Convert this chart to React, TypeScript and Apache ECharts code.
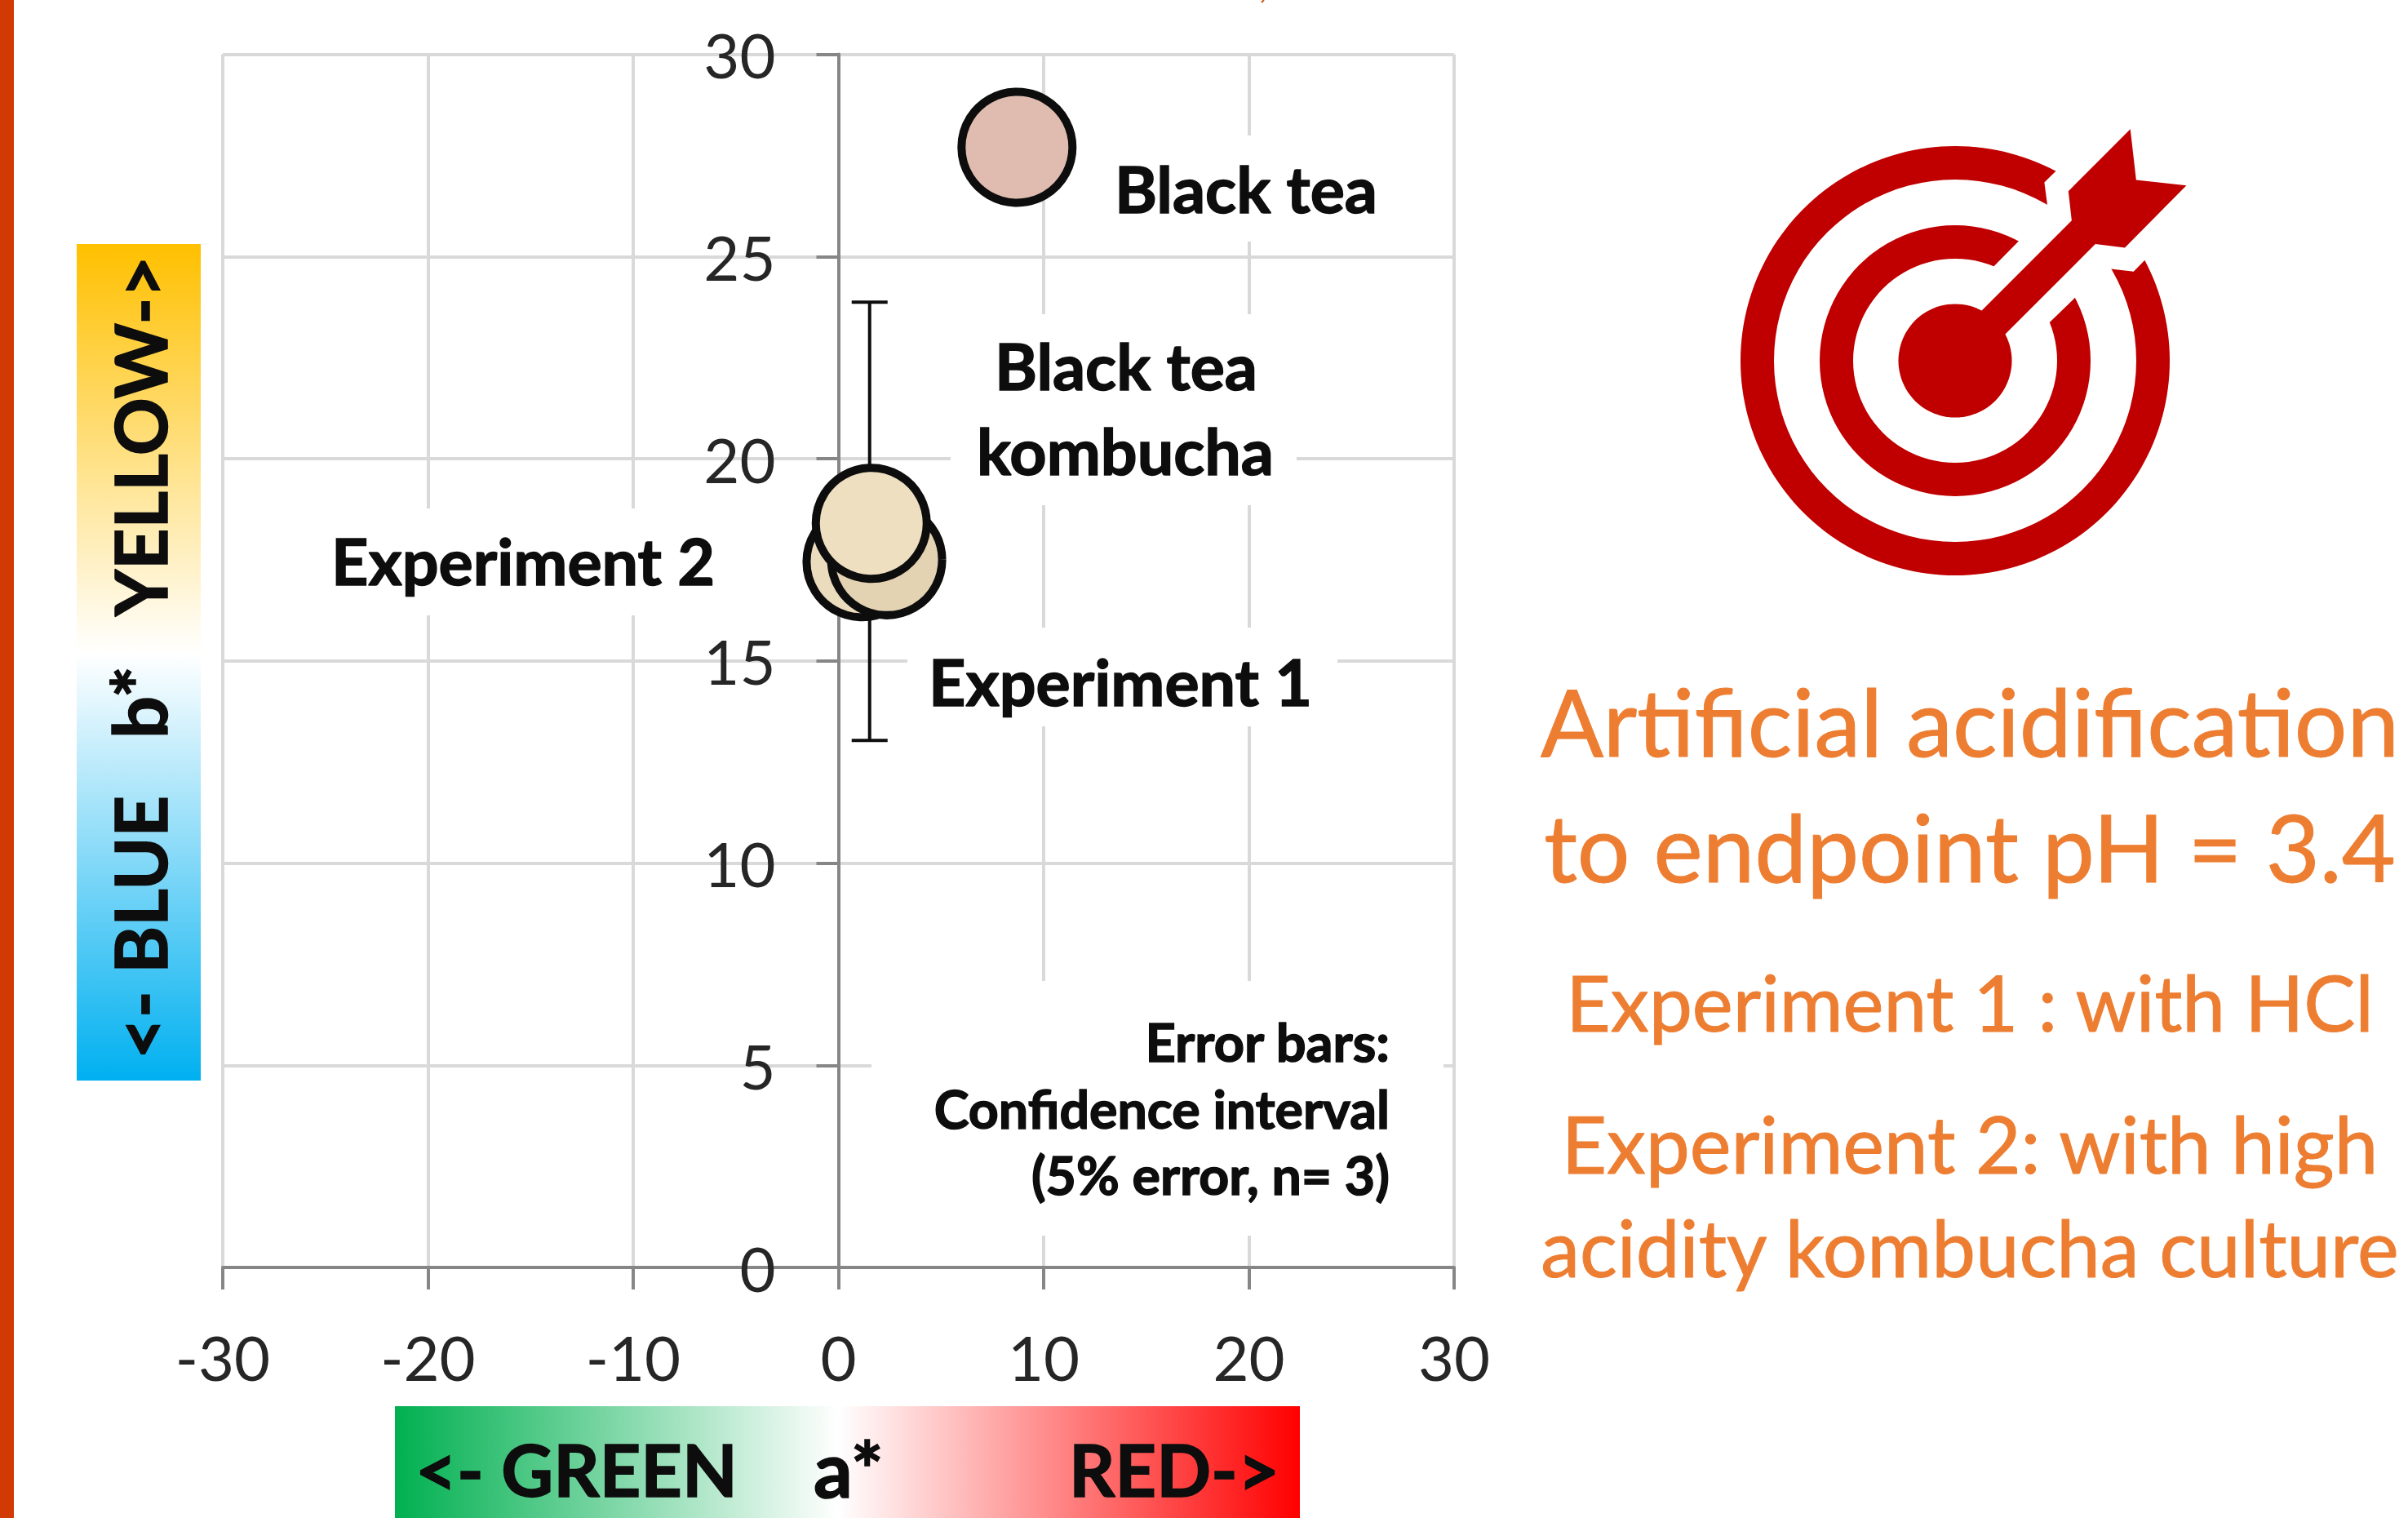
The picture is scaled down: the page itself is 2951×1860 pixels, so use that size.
import React, { useEffect, useRef } from "react";
import * as echarts from "echarts";

const xTicks = [-30, -20, -10, 0, 10, 20, 30];
const yTicks = [0, 5, 10, 15, 20, 25, 30];
const blackTea = [[8.7, 27.7]];
const experiment1Left = [[1.15, 17.45]];
const experiment1Right = [[2.35, 17.5]];
const kombucha = [[1.6, 18.4]];
const errorBars = [[1.52, 13.03, 23.87]];

const FONT = "Lato";
const BLACK = "#0d0d0d";
const ORANGE = "#ED7D31";
const RED = "#C00000";

const W = 2951, H = 1860;
const L = 273, R = 1782, T = 66.5, B = 1553;
const ZERO_OFFSET = (R - L) / 2;

function label(text: string, x: number, baseline: number, size: number, extra: any = {}) {
  const heavy = !extra.weight;
  return {
    type: "text", x, y: baseline - size * 0.36, z: 5, silent: true,
    style: {
      text, fontFamily: FONT, fontSize: size, fontWeight: extra.weight || "bold",
      fill: extra.fill || BLACK, textAlign: extra.align || "left", textVerticalAlign: "middle",
      stroke: heavy ? BLACK : extra.fill, lineWidth: heavy ? 1.5 : 1,
    },
  };
}
function vlabel(text: string, baselineX: number, yStart: number, size: number) {
  return {
    type: "text", x: baselineX - size * 0.36, y: yStart, z: 5, silent: true, rotation: Math.PI / 2,
    style: { text, fontFamily: FONT, fontSize: size, fontWeight: "bold", fill: BLACK, textAlign: "left", textVerticalAlign: "middle", stroke: BLACK, lineWidth: 1.5 },
  };
}
function box(x0: number, y0: number, x1: number, y1: number) {
  return { type: "rect", z: 1, silent: true, shape: { x: x0, y: y0, width: x1 - x0, height: y1 - y0 }, style: { fill: "#fff" } };
}
const ix = (X: number) => 2050 + X / 2.24;
const iy = (Y: number) => 120 + Y / 2.529;
const pts = (a: number[][]) => a.map(([X, Y]) => [ix(X), iy(Y)]);

function App() {
  const ref = useRef<HTMLDivElement>(null);
  useEffect(() => {
    document.body.style.margin = "0";
    const chart = echarts.init(ref.current!, null, { renderer: "svg" });
    const cx = 2396, cy = 442;
    const axisCommon = {
      type: "value",
      splitLine: { show: true, lineStyle: { color: "#D9D9D9", width: 4 } },
      axisTick: { show: true, length: 27, inside: false, lineStyle: { color: "#868686", width: 4 } },
    };
    const tickFont = { fontFamily: FONT, fontWeight: 400, fontSize: 76, color: "#262626", showMinLabel: true, showMaxLabel: true };
    chart.setOption({
      animation: false,
      backgroundColor: "#fff",
      grid: { left: L, top: T, width: R - L, height: B - T, containLabel: false },
      xAxis: {
        ...axisCommon, min: xTicks[0], max: xTicks[xTicks.length - 1], interval: 10,
        axisLine: { show: true, onZero: true, lineStyle: { color: "#868686", width: 4 } },
        axisLabel: { ...tickFont, margin: 71 },
      },
      yAxis: {
        ...axisCommon, min: yTicks[0], max: yTicks[yTicks.length - 1], interval: 5,
        position: "left", offset: -ZERO_OFFSET,
        axisLine: { show: true, onZero: false, lineStyle: { color: "#868686", width: 4 } },
        axisLabel: { ...tickFont, margin: 77, padding: [0, 0, 6, 0] },
      },
      series: [
        {
          type: "custom", name: "Error bars", z: 3, coordinateSystem: "cartesian2d", data: errorBars,
          encode: { x: 0, y: [1, 2] },
          renderItem: (_: any, api: any) => {
            const x = api.value(0);
            const lo = api.coord([x, api.value(1)]);
            const hi = api.coord([x, api.value(2)]);
            const s = { stroke: BLACK, lineWidth: 4 };
            const line = (a: number[], b: number[]) => ({ type: "line", shape: { x1: a[0], y1: a[1], x2: b[0], y2: b[1] }, style: s });
            return { type: "group", children: [
              line(lo, hi),
              line([lo[0] - 22, lo[1]], [lo[0] + 22, lo[1]]),
              line([hi[0] - 22, hi[1]], [hi[0] + 22, hi[1]]),
            ] };
          },
        },
        { type: "scatter", name: "Black tea", z: 4, data: blackTea, symbolSize: 136, itemStyle: { color: "#E0BCB0", borderColor: BLACK, borderWidth: 10, opacity: 1 } },
        { type: "scatter", name: "Experiment 2", z: 4, data: experiment1Left, symbolSize: 136, itemStyle: { color: "#EBDCBD", borderColor: BLACK, borderWidth: 10, opacity: 1 } },
        { type: "scatter", name: "Experiment 1", z: 5, data: experiment1Right, symbolSize: 136, itemStyle: { color: "#E3D3B3", borderColor: BLACK, borderWidth: 10, opacity: 1 } },
        { type: "scatter", name: "Black tea kombucha", z: 6, data: kombucha, symbolSize: 136, itemStyle: { color: "#EDDFC0", borderColor: BLACK, borderWidth: 10, opacity: 1 } },
      ],
      graphic: [
        { type: "rect", z: 1, silent: true, shape: { x: 0, y: 0, width: 17, height: H }, style: { fill: "#D13A05" } },
        { type: "line", z: 1, silent: true, shape: { x1: 1549, y1: 0, x2: 1546, y2: 3 }, style: { stroke: "#C55A11", lineWidth: 2 } },
        { type: "rect", z: 1, silent: true, shape: { x: 94, y: 299, width: 152, height: 1025 }, style: { fill: new echarts.graphic.LinearGradient(0, 0, 0, 1, [{ offset: 0, color: "#FFC000" }, { offset: 0.49, color: "#FFFFFF" }, { offset: 1, color: "#00B0F0" }]) } },
        { type: "rect", z: 1, silent: true, shape: { x: 484, y: 1723, width: 1109, height: 137 }, style: { fill: new echarts.graphic.LinearGradient(0, 0, 1, 0, [{ offset: 0, color: "#00B050" }, { offset: 0.49, color: "#FFFFFF" }, { offset: 1, color: "#FF0000" }]) } },
        vlabel("<- BLUE", 203, 1298, 88),
        vlabel("b*", 203, 905, 92),
        vlabel("YELLOW->", 203, 755, 88),
        label("<- GREEN", 509, 1832, 88),
        label("a*", 997, 1832, 94),
        label("RED->", 1310, 1832, 88),

        box(1350, 166, 1705, 296),
        box(1165, 385, 1589, 619),
        box(1112, 769, 1639, 890),
        box(390, 623, 895, 754),
        box(1068, 1202, 1769, 1514),
        label("Black tea", 1366, 259, 79),
        label("Black tea", 1380, 476, 79, { align: "center" }),
        label("kombucha", 1379, 580, 79, { align: "center" }),
        label("Experiment 1", 1138, 863, 79),
        label("Experiment 2", 406, 715, 79),
        label("Error bars:", 1703, 1299, 65, { align: "right" }),
        label("Confidence interval", 1703, 1381, 64.5, { align: "right" }),
        label("(5% error, n= 3)", 1703, 1462, 64.5, { align: "right" }),

        { type: "ring", z: 1, silent: true, shape: { cx, cy, r: 263, r0: 222 }, style: { fill: RED } },
        { type: "ring", z: 1, silent: true, shape: { cx, cy, r: 166, r0: 125 }, style: { fill: RED } },
        { type: "polygon", z: 2, silent: true, shape: { points: pts([[1053,225],[1020,262],[1028,330],[950,443],[881,522],[775,815],[1035,695],[1105,618],[1203,530],[1265,538],[1295,503],[1600,160],[1100,60]]) }, style: { fill: "#fff" } },
        { type: "circle", z: 3, silent: true, shape: { cx, cy, r: 69.5 }, style: { fill: RED } },
        { type: "polygon", z: 3, silent: true, shape: { points: pts([[1256,97],[1272,254],[1410,271],[1241,464],[1160,453],[912,733],[830,760],[847,660],[1095,380],[1086,289]]) }, style: { fill: RED } },

        label("Artificial acidification", 2414, 924, 114, { align: "center", weight: 400, fill: ORANGE }),
        label("to endpoint pH = 3.4", 2414, 1078, 114, { align: "center", weight: 400, fill: ORANGE }),
        label("Experiment 1 : with HCl", 2414, 1262, 94.5, { align: "center", weight: 400, fill: ORANGE }),
        label("Experiment 2: with high", 2414, 1435, 96, { align: "center", weight: 400, fill: ORANGE }),
        label("acidity kombucha culture", 2414, 1562, 96, { align: "center", weight: 400, fill: ORANGE }),
      ],
    });
    return () => chart.dispose();
  }, []);
  return <div ref={ref} style={{ position: "absolute", left: 0, top: 0, width: W, height: H }} />;
}
export default App;
